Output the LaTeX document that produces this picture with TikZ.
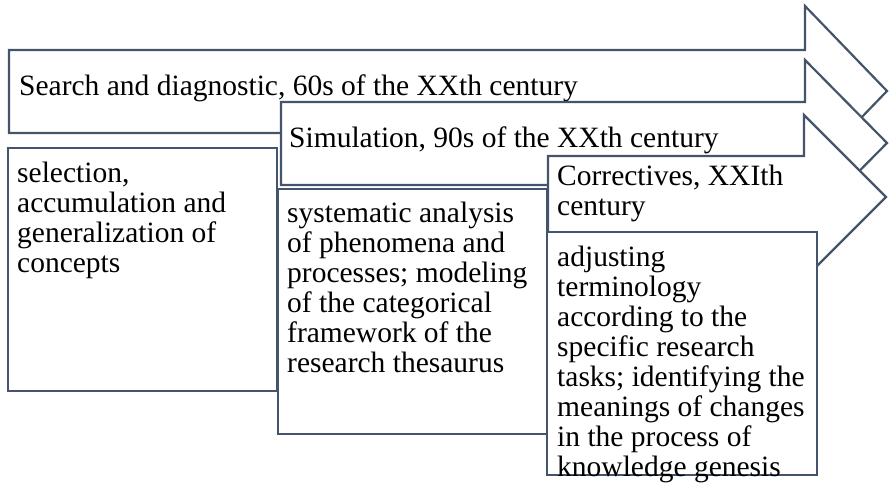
\documentclass[tikz,border=0pt]{standalone}
\usepackage{fontspec}
\setmainfont{Liberation Serif}
\usepackage{tikz}
\definecolor{slate}{HTML}{44546A}

\begin{document}
\begin{tikzpicture}[x=1pt,y=-1pt,
  stage/.style={draw=slate,line width=2.2pt,fill=white,line join=miter},
  lbl/.style={anchor=north west,inner sep=0pt,align=left,
    font=\fontsize{29.5}{30}\selectfont,execute at begin node=\strut}]
  \useasboundingbox (0,0) rectangle (889,484);
  \draw[stage] (9,50) -- (805,50) -- (805,6) -- (887,91) -- (805,176) -- (805,133) -- (9,133) -- cycle;
  \node[lbl] (search) at (19,74) {Search and diagnostic, 60s of the XXth century};
  \draw[stage] (8,148) rectangle (277,391);
  \node[lbl] (concepts) at (17,162) {selection,\\accumulation and\\generalization of\\concepts};
  \draw[stage] (281,102) -- (805,102) -- (805,60) -- (887,143) -- (805,226) -- (805,185) -- (281,185) -- cycle;
  \node[lbl] (simulation) at (289,126) {Simulation, 90s of the XXth century};
  \draw[stage] (278,189) rectangle (547,434);
  \node[lbl] (analysis) at (287,202) {systematic analysis\\of phenomena and\\processes; modeling\\of the categorical\\framework of the\\research thesaurus};
  \draw[stage] (548,156) -- (804,156) -- (804,115) -- (886,197) -- (804,279) -- (804,238) -- (548,238) -- cycle;
  \node[lbl] (correctives) at (557,165) {Correctives, XXIth\\century};
  \draw[stage] (547,232) rectangle (817,475);
  \node[lbl] (adjusting) at (557,246) {adjusting\\terminology\\according to the\\specific research\\tasks; identifying the\\meanings of changes\\in the process of\\knowledge genesis};
\end{tikzpicture}
\end{document}
